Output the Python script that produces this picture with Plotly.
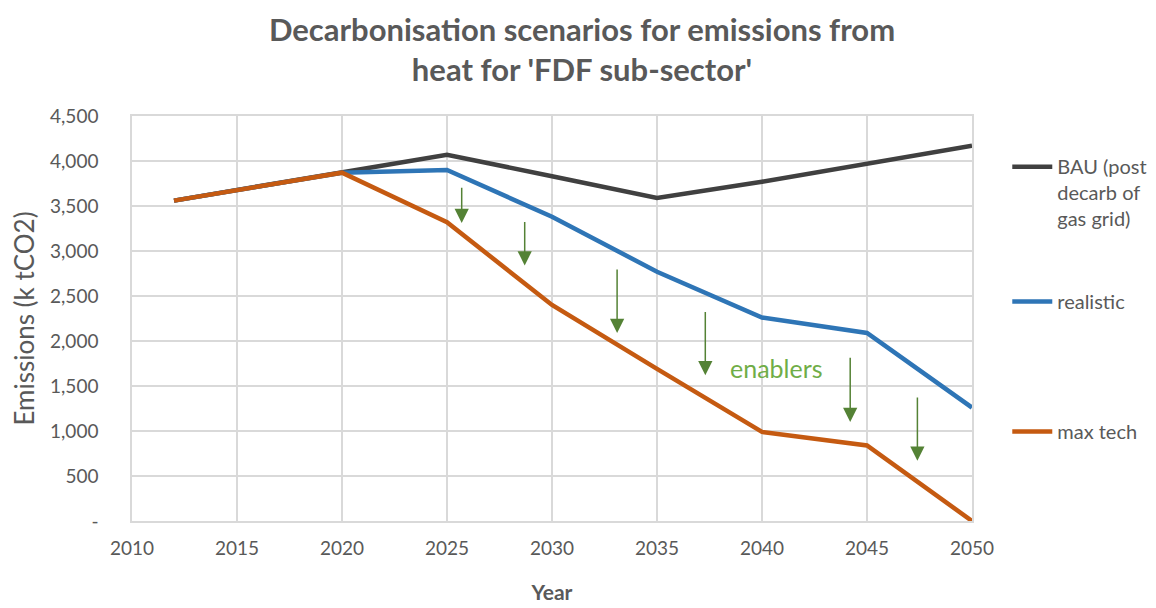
import plotly.graph_objects as go

# ===== data =====
YEARS = [2012, 2015, 2020, 2025, 2030, 2035, 2040, 2045, 2050]
BAU = [3560, 3680, 3870, 4070, 3830, 3590, 3770, 3970, 4170]
REALISTIC = [3560, 3680, 3870, 3900, 3380, 2770, 2260, 2090, 1260]
MAX_TECH = [3560, 3680, 3870, 3320, 2400, 1690, 990, 840, 0]

SERIES_NAMES = ["BAU (post<br>decarb of<br>gas grid)", "realistic", "max tech"]

# green "enabler" arrows: x position, tail value, tip value
ARROW_X = [2025.7, 2028.7, 2033.1, 2037.3, 2044.2, 2047.4]
ARROW_TOP = [3720, 3340, 2810, 2340, 1830, 1390]
ARROW_TIP = [3310, 2840, 2090, 1620, 1100, 670]
ENABLERS_LABEL = ("enablers", 2040.7, 1700)

Y_TICKS = [0, 500, 1000, 1500, 2000, 2500, 3000, 3500, 4000, 4500]
Y_TICK_TEXT = ["-", "500", "1,000", "1,500", "2,000", "2,500", "3,000", "3,500", "4,000", "4,500"]
X_TICKS = list(range(2010, 2051, 5))

# ===== style =====
COLORS = {
    "bau": "#404040",
    "realistic": "#2E75B6",
    "maxtech": "#C55A11",
    "arrow": "#548235",
    "enablers": "#70AD47",
    "text": "#595959",
    "grid": "#D9D9D9",
}
FONT = "Lato, 'Open Sans', sans-serif"

fig = go.Figure()

for name, vals, col, leg in [
    (SERIES_NAMES[0], BAU, COLORS["bau"], "legend"),
    (SERIES_NAMES[1], REALISTIC, COLORS["realistic"], "legend2"),
    (SERIES_NAMES[2], MAX_TECH, COLORS["maxtech"], "legend3"),
]:
    fig.add_trace(go.Scatter(
        x=YEARS, y=vals, mode="lines", name=name,
        line=dict(color=col, width=4.5),
        legend=leg,
    ))

# arrows
for x, top, tip in zip(ARROW_X, ARROW_TOP, ARROW_TIP):
    fig.add_annotation(
        x=x, y=tip, ax=x, ay=top, axref="x", ayref="y",
        text="", showarrow=True,
        arrowhead=2, arrowsize=1.9, arrowwidth=1.5,
        arrowcolor=COLORS["arrow"], standoff=0,
    )

fig.add_annotation(
    x=ENABLERS_LABEL[1], y=ENABLERS_LABEL[2], text=ENABLERS_LABEL[0],
    showarrow=False, font=dict(color=COLORS["enablers"], size=25, family=FONT),
)

legend_common = dict(
    x=1.042, xanchor="left", yanchor="top", valign="top",
    font=dict(size=20, color=COLORS["text"], family=FONT),
    bgcolor="rgba(0,0,0,0)", itemwidth=40,
)

# page body adds an 8px offset, so the figure is 8px smaller than the window
fig.update_layout(
    width=1148, height=600,
    paper_bgcolor="white", plot_bgcolor="white",
    margin=dict(l=124, r=184, t=108, b=87, autoexpand=False),
    font=dict(family=FONT, color=COLORS["text"]),
    showlegend=True,
    title=dict(
        text="<b>Decarbonisation scenarios for emissions from<br>heat for 'FDF sub-sector'</b>",
        x=0.5, xref="container", xanchor="center",
        y=0.945, yref="container", yanchor="top",
        font=dict(size=31, color=COLORS["text"], family=FONT),
    ),
    legend=dict(y=0.923, **legend_common),
    legend2=dict(y=0.59, **legend_common),
    legend3=dict(y=0.269, **legend_common),
    xaxis=dict(
        range=[2010, 2050], tickvals=X_TICKS, automargin=False,
        showgrid=True, gridcolor=COLORS["grid"], gridwidth=1.5,
        showline=True, linecolor=COLORS["grid"], linewidth=1.5, mirror=True,
        zeroline=False, ticks="", ticklabelstandoff=9,
        tickfont=dict(size=19, color=COLORS["text"]),
        title=dict(text="<b>Year</b>", font=dict(size=21, color=COLORS["text"]), standoff=28),
    ),
    yaxis=dict(
        range=[0, 4500], tickvals=Y_TICKS, ticktext=Y_TICK_TEXT, automargin=False,
        showgrid=True, gridcolor=COLORS["grid"], gridwidth=1.5,
        showline=True, linecolor=COLORS["grid"], linewidth=1.5, mirror=True,
        zeroline=False, ticks="", ticklabelstandoff=28,
        tickfont=dict(size=19, color=COLORS["text"]),
        title=dict(text="Emissions (k tCO2)", font=dict(size=26, color=COLORS["text"]), standoff=10),
    ),
)

fig.write_html("out.html")
